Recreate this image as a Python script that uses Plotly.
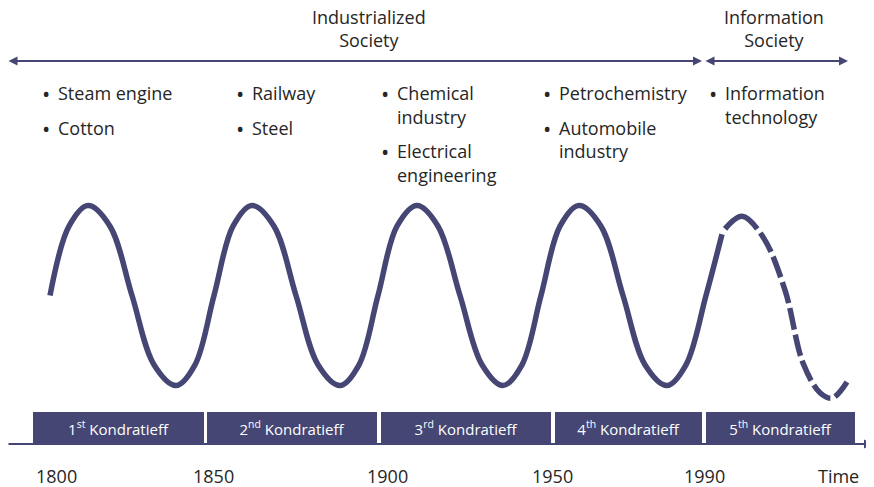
import plotly.graph_objects as go

# ---------------- data ----------------
tick_labels = ["1800", "1850", "1900", "1950", "1990", "Time"]
tick_pos = [56, 213, 387, 552, 704, 838]

# long wave (amplitude units, midline = 0), knots
wave_solid_x = [50, 69, 88, 110, 132, 154, 176, 195, 214, 233, 252, 274, 296, 318, 340,
                359, 378, 397, 417, 438, 460, 482, 503, 522, 541, 560, 579, 601, 623, 645,
                667, 686, 706, 722]
wave_solid_y = [0.0, 0.77, 1.0, 0.77, 0.0, -0.77, -1.0, -0.77, 0.0, 0.77, 1.0, 0.77, 0.0, -0.77, -1.0,
                -0.77, 0.0, 0.77, 1.0, 0.77, 0.0, -0.77, -1.0, -0.77, 0.0, 0.77, 1.0, 0.77, 0.0, -0.77,
                -1.0, -0.77, 0.0, 0.68]
wave_dash_x = [725, 742, 763, 785, 803, 820, 832, 847]
wave_dash_y = [0.74, 0.88, 0.65, 0.06, -0.75, -1.08, -1.14, -0.96]

wave_names = ["1<sup>st</sup> Kondratieff", "2<sup>nd</sup> Kondratieff", "3<sup>rd</sup> Kondratieff",
              "4<sup>th</sup> Kondratieff", "5<sup>th</sup> Kondratieff"]
wave_start = [33, 207, 381, 555, 706]
wave_end = [204, 377, 551, 702, 855]

innovations = [
    ["Steam engine", "Cotton"],
    ["Railway", "Steel"],
    ["Chemical<br>industry", "Electrical<br>engineering"],
    ["Petrochemistry", "Automobile<br>industry"],
    ["Information<br>technology"],
]
innovation_x = [56, 250, 395, 557, 723]

eras = ["Industrialized<br>Society", "Information<br>Society"]
era_center = [369, 774]
era_start = [7, 704]
era_end = [702, 848]

# ---------------- styling ----------------
W, H = 874, 487
OFF = 8          # page body margin of the html page
FIG_H = 479
MID, AMP = 295.5, 90.0
NAVY = "#454673"
TXT = "#262626"
FONT = "Open Sans, Noto Sans, DejaVu Sans, sans-serif"


def py(p):
    """convert a vertical pixel offset from the top into y-axis units"""
    return (MID - p) / AMP


fig = go.Figure()

# Kondratieff boxes
fig.add_trace(go.Bar(
    x=[(s + e) / 2 for s, e in zip(wave_start, wave_end)],
    width=[e - s for s, e in zip(wave_start, wave_end)],
    y=[py(412) - py(444)] * len(wave_names),
    base=[py(444)] * len(wave_names),
    marker=dict(color=NAVY, line=dict(width=0)),
    text=wave_names,
    textposition="inside",
    insidetextanchor="middle",
    textangle=0,
    textfont=dict(family=FONT, size=15, color="white"),
    hoverinfo="skip",
    showlegend=False,
))

# wave
fig.add_trace(go.Scatter(
    x=wave_solid_x, y=wave_solid_y, mode="lines",
    line=dict(color=NAVY, width=5.5, shape="spline", smoothing=1.0),
    hoverinfo="skip", showlegend=False,
))
fig.add_trace(go.Scatter(
    x=wave_dash_x, y=wave_dash_y, mode="lines",
    line=dict(color=NAVY, width=5.5, shape="spline", smoothing=1.0,
              dash="42px,5px" + ",22px,5px" * 12),
    hoverinfo="skip", showlegend=False,
))

annotations = []

# era arrows + labels
for s, e in zip(era_start, era_end):
    annotations.append(dict(
        x=e, y=py(61), ax=s, ay=py(61), xref="x", yref="y", axref="x", ayref="y",
        text="", showarrow=True, arrowhead=2, arrowside="end+start",
        arrowsize=0.9, arrowwidth=2, arrowcolor=NAVY,
    ))
for lab, cx in zip(eras, era_center):
    annotations.append(dict(
        x=cx, y=py(28), xref="x", yref="y", text=lab, showarrow=False,
        xanchor="center", yanchor="middle",
        font=dict(family=FONT, size=18, color=TXT),
    ))

# time axis
annotations.append(dict(
    x=873, y=py(444), ax=7, ay=py(444), xref="x", yref="y", axref="x", ayref="y",
    text="", showarrow=True, arrowhead=2, arrowsize=0.9, arrowwidth=2, arrowcolor=NAVY,
))
for lab, x in zip(tick_labels, tick_pos):
    annotations.append(dict(
        x=x, y=py(476), xref="x", yref="y", text=lab, showarrow=False,
        xanchor="center", yanchor="middle",
        font=dict(family=FONT, size=18, color=TXT),
    ))

# innovation bullets
LINE = 23.5
PARA = 34.5
for items, x0 in zip(innovations, innovation_x):
    base = 99.5
    for item in items:
        lines = item.split("<br>")
        annotations.append(dict(
            x=x0 - 10, y=py(base - 6.5), xref="x", yref="y", text="•", showarrow=False,
            xanchor="center", yanchor="middle",
            font=dict(family=FONT, size=22, color=TXT),
        ))
        for i, ln in enumerate(lines):
            annotations.append(dict(
                x=x0, y=py(base + i * LINE - 6.5), xref="x", yref="y", text=ln,
                showarrow=False, xanchor="left", yanchor="middle",
                font=dict(family=FONT, size=18, color=TXT),
            ))
        base += (len(lines) - 1) * LINE + PARA

fig.update_layout(
    width=W - OFF, height=FIG_H,
    margin=dict(l=0, r=0, t=0, b=0),
    paper_bgcolor="white", plot_bgcolor="white",
    xaxis=dict(range=[OFF, W], visible=False, fixedrange=True),
    yaxis=dict(range=[py(OFF + FIG_H), py(OFF)], visible=False, fixedrange=True),
    annotations=annotations,
    barmode="overlay",
    bargap=0,
    showlegend=False,
)

fig.write_html("out.html")
